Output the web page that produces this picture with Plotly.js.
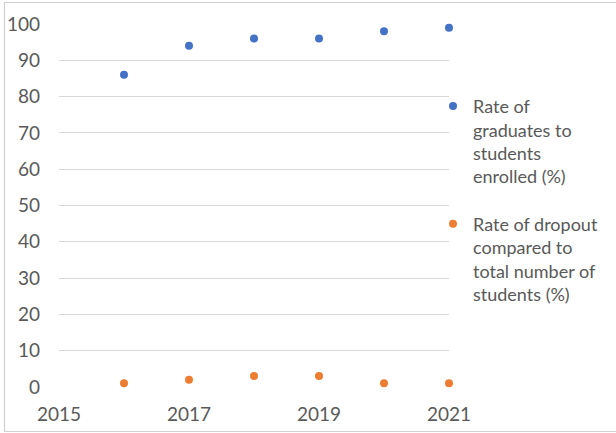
<!DOCTYPE html>
<html><head><meta charset="utf-8">
<script src="https://cdn.plot.ly/plotly-3.0.1.min.js"></script>
<style>html,body{margin:0;padding:0;background:#fff}#c{width:616px;height:433px}</style>
</head><body><div id="c"></div>
<script>
const years = [2016, 2017, 2018, 2019, 2020, 2021];
const graduatesRate = [86, 94, 96, 96, 98, 99];
const dropoutRate = [1, 2, 3, 3, 1, 1];
const seriesNames = ["Rate of<br>graduates to<br>students<br>enrolled (%)", "Rate of dropout<br>compared to<br>total number of<br>students (%)"];
const xTicks = [2015, 2017, 2019, 2021];
const yTicks = [0, 10, 20, 30, 40, 50, 60, 70, 80, 90, 100];

const txt = '#595959';
const traces = [
  {x: years, y: graduatesRate, name: seriesNames[0], legendgroup: 'g1', type: 'scatter', mode: 'markers', marker: {color: '#4472C4', size: 8}, cliponaxis: false},
  {x: years, y: dropoutRate, name: seriesNames[1], legendgroup: 'g2', type: 'scatter', mode: 'markers', marker: {color: '#ED7D31', size: 8}, cliponaxis: false}
];
const W = 390, H = 363;
const px = v => (v - 59) / W, py = v => (387 - v) / H;
const layout = {
  width: 616, height: 433,
  margin: {l: 59, r: 167, t: 24, b: 46, pad: 0},
  paper_bgcolor: '#fff', plot_bgcolor: '#fff',
  font: {family: 'Lato, "Open Sans", sans-serif', size: 19, color: txt},
  showlegend: true,
  legend: {x: px(433), xanchor: 'left', y: 0.824, yanchor: 'top', valign: 'top', tracegroupgap: 21, font: {size: 18, color: txt}, bgcolor: 'rgba(0,0,0,0)'},
  xaxis: {range: [2015, 2021], tickvals: xTicks, ticktext: xTicks.map(String), showgrid: false, zeroline: false, showline: false, ticks: '', ticklabelstandoff: 14},
  yaxis: {range: [0, 100], tickvals: yTicks, showgrid: true, gridcolor: '#d9d9d9', gridwidth: 1, zeroline: false, showline: false, ticks: '', ticklabelstandoff: 18},
  shapes: [
    {type: 'rect', xref: 'paper', yref: 'paper', layer: 'below', x0: px(4.5), x1: px(640), y0: py(2.5), y1: py(431.5), line: {color: '#d0d0d0', width: 1.2}, fillcolor: 'rgba(0,0,0,0)'}
  ]
};
Plotly.newPlot('c', traces, layout, {staticPlot: true});
</script></body></html>
